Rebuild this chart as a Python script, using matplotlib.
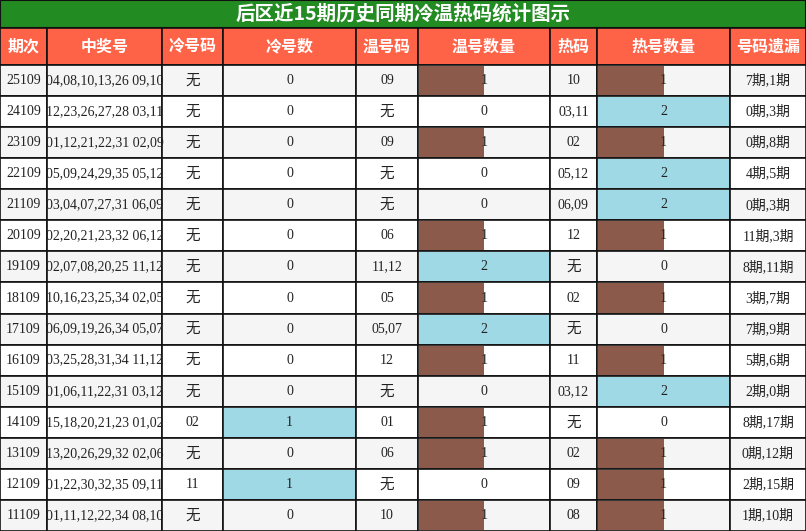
import matplotlib
matplotlib.use("Agg")
import matplotlib.pyplot as plt
from matplotlib.patches import Rectangle

title = "后区近15期历史同期冷温热码统计图示"
headers = ["期次", "中奖号", "冷号码", "冷号数", "温号码", "温号数量", "热码", "热号数量", "号码遗漏"]
periods = ["25109","24109","23109","22109","21109","20109","19109","18109","17109","16109","15109","14109","13109","12109","11109"]
draws = ["04,08,10,13,26 09,10","12,23,26,27,28 03,11","01,12,21,22,31 02,09","05,09,24,29,35 05,12",
         "03,04,07,27,31 06,09","02,20,21,23,32 06,12","02,07,08,20,25 11,12","10,16,23,25,34 02,05",
         "06,09,19,26,34 05,07","03,25,28,31,34 11,12","01,06,11,22,31 03,12","15,18,20,21,23 01,02",
         "13,20,26,29,32 02,06","01,22,30,32,35 09,11","01,11,12,22,34 08,10"]
cold_codes = ["无"]*11 + ["02","无","11","无"]
cold_cnt = [0]*11 + [1,0,1,0]
warm_codes = ["09","无","09","无","无","06","11,12","05","05,07","12","无","01","06","无","10"]
warm_cnt = [1,0,1,0,0,1,2,1,2,1,0,1,1,0,1]
hot_codes = ["10","03,11","02","05,12","06,09","12","无","02","无","11","03,12","无","02","09","08"]
hot_cnt = [1,2,1,2,2,1,0,1,0,1,2,0,1,1,1]
omission = ["7期,1期","0期,3期","0期,8期","4期,5期","0期,3期","11期,3期","8期,11期","3期,7期",
            "7期,9期","5期,6期","2期,0期","8期,17期","0期,12期","2期,15期","1期,10期"]

W, H = 806, 531
xs = [0, 47, 162, 223, 356, 418, 550, 597, 730, 806]
title_h, head_h = 28, 37
row_h = (H - title_h - head_h) / len(periods)

fig = plt.figure(figsize=(W/100, H/100), dpi=100)
ax = fig.add_axes([0, 0, 1, 1])
ax.set_xlim(0, W); ax.set_ylim(H, 0); ax.axis("off")

cjk = ["Noto Sans CJK SC", "DejaVu Sans"]
serif = ["Liberation Serif", "Noto Sans CJK SC"]
edge = "#111111"

ax.add_patch(Rectangle((0, 0), W, title_h, facecolor="#228B22", edgecolor=edge, lw=1.5))
ax.text(W/2, title_h/2, title, color="white", fontsize=14, fontweight="bold",
        ha="center", va="center", family=cjk)
for i, h in enumerate(headers):
    ax.add_patch(Rectangle((xs[i], title_h), xs[i+1]-xs[i], head_h, facecolor="#FF6347", edgecolor=edge, lw=1.2))
    ax.text((xs[i]+xs[i+1])/2, title_h+head_h/2, h, color="white", fontsize=11.5, fontweight="bold",
            ha="center", va="center", family=cjk)

cols = [periods, draws, cold_codes, cold_cnt, warm_codes, warm_cnt, hot_codes, hot_cnt, omission]
bar_cols = {3: max(cold_cnt), 5: max(warm_cnt), 7: max(hot_cnt)}
for r in range(len(periods)):
    y = title_h + head_h + r*row_h
    bg = "#F5F5F5" if r % 2 == 0 else "white"
    for c, col in enumerate(cols):
        x0, x1 = xs[c], xs[c+1]
        ax.add_patch(Rectangle((x0, y), x1-x0, row_h, facecolor=bg, edgecolor=edge, lw=1.2, zorder=1))
        v = col[r]
        if c in bar_cols and v > 0:
            m = bar_cols[c]
            frac = v / m if c == 3 else v / 2
            color = "#A0D9E6" if frac >= 1 else "#8B5A4B"
            ax.add_patch(Rectangle((x0+1, y+1), (x1-x0-2)*frac, row_h-2, facecolor=color, edgecolor="none", zorder=2))
        s = str(v)
        fam = cjk if s == "无" else serif
        ax.text((x0+x1)/2, y+row_h/2, s, fontsize=10 if s != "无" else 10.5, ha="center", va="center",
                family=fam, color="#222222", zorder=3)

fig.savefig("out.png", dpi=100)
